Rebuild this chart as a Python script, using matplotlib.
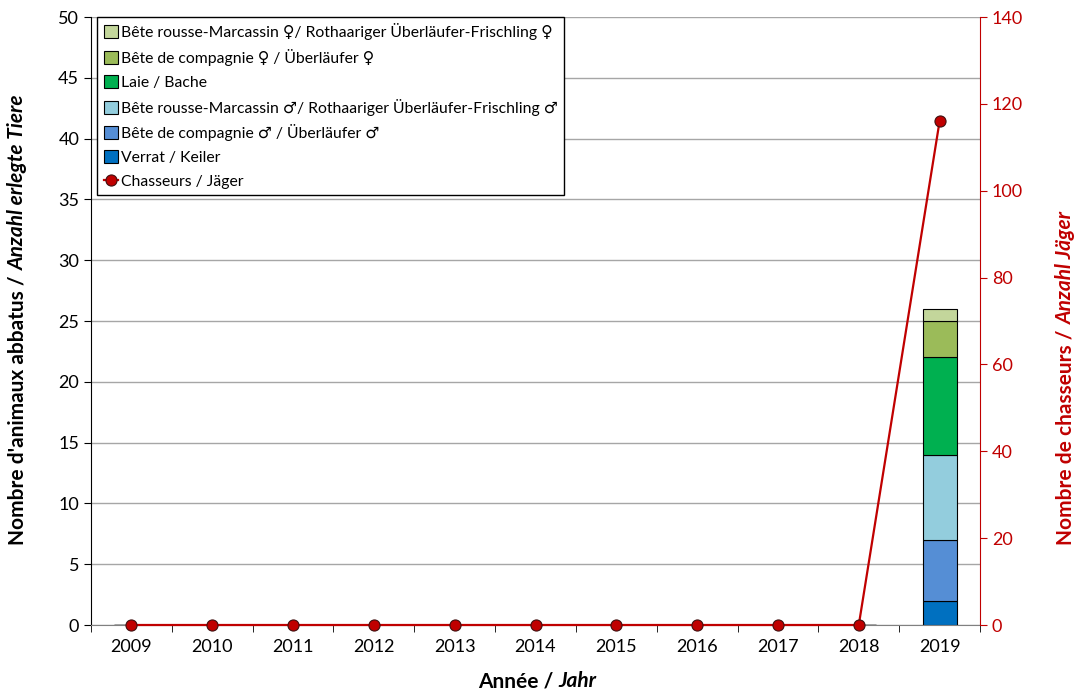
import numpy as np
import matplotlib
matplotlib.use('Agg')
import matplotlib.pyplot as plt

plt.rcParams['font.family'] = ['Lato', 'DejaVu Sans']

# données
annees = ['2009', '2010', '2011', '2012', '2013', '2014', '2015', '2016', '2017', '2018', '2019']
verrat = [0, 0, 0, 0, 0, 0, 0, 0, 0, 0, 2]
compagnie_m = [0, 0, 0, 0, 0, 0, 0, 0, 0, 0, 5]
rousse_m = [0, 0, 0, 0, 0, 0, 0, 0, 0, 0, 7]
laie = [0, 0, 0, 0, 0, 0, 0, 0, 0, 0, 8]
compagnie_f = [0, 0, 0, 0, 0, 0, 0, 0, 0, 0, 3]
rousse_f = [0, 0, 0, 0, 0, 0, 0, 0, 0, 0, 1]
chasseurs = [0, 0, 0, 0, 0, 0, 0, 0, 0, 0, 116]

series = [
    (verrat, '#0070C0', 'Verrat / Keiler'),
    (compagnie_m, '#558ED5', 'Bête de compagnie \u2642 / Überläufer \u2642'),
    (rousse_m, '#93CDDD', 'Bête rousse-Marcassin \u2642/ Rothaariger Überläufer-Frischling \u2642'),
    (laie, '#00B050', 'Laie / Bache'),
    (compagnie_f, '#9BBB59', 'Bête de compagnie \u2640 / Überläufer \u2640'),
    (rousse_f, '#C3D69B', 'Bête rousse-Marcassin \u2640/ Rothaariger Überläufer-Frischling \u2640'),
]

rouge = '#C00000'

fig = plt.figure(figsize=(10.79, 6.94), dpi=100)
ax = fig.add_axes([91/1079, 1-625/694, (980-91)/1079, (625-17)/694])
x = np.arange(len(annees))

bas = np.zeros(len(annees))
barres = []
for vals, col, lab in series:
    b = ax.bar(x, vals, 0.42, bottom=bas, color=col, edgecolor='black', linewidth=0.8, label=lab, zorder=2)
    barres.append(b)
    bas = bas + np.array(vals)

ax.set_xlim(-0.5, len(annees) - 0.5)
ax.set_ylim(0, 50)
ax.set_yticks(np.arange(0, 51, 5))
ax.set_xticks(x)
ax.set_xticklabels(annees)
ax.set_xticks(np.arange(-0.5, len(annees), 1), minor=True)
ax.tick_params(axis='x', which='major', length=0, labelsize=13, pad=10)
ax.tick_params(axis='x', which='minor', length=5, direction='out', color='black')
ax.tick_params(axis='y', labelsize=13, length=5, direction='out')
ax.yaxis.grid(True, color='#A6A6A6', linewidth=1)
ax.set_axisbelow(True)
ax.spines['top'].set_visible(False)
ax.spines['right'].set_visible(False)
ax.spines['bottom'].set_color('#808080')

ax2 = ax.twinx()
ligne, = ax2.plot(x, chasseurs, color=rouge, linewidth=1.6, marker='o', markersize=8,
                  markerfacecolor=rouge, markeredgecolor='#401010', markeredgewidth=0.8,
                  label='Chasseurs / Jäger', zorder=3, clip_on=False)
ax2.set_ylim(0, 140)
ax2.set_yticks(np.arange(0, 141, 20))
ax2.tick_params(axis='y', colors=rouge, labelsize=13, length=5, direction='out')
ax2.spines['right'].set_color(rouge)
ax2.spines['top'].set_visible(False)
ax2.spines['left'].set_visible(False)
ax2.spines['bottom'].set_visible(False)

handles = [b for b in barres[::-1]] + [ligne]
labels = [s[2] for s in series[::-1]] + ['Chasseurs / Jäger']
leg = ax2.legend(handles, labels, loc='upper left', bbox_to_anchor=(0.007, 1.0),
                 fontsize=11.3, frameon=True, fancybox=False, edgecolor='black',
                 framealpha=1, handlelength=0.9, handleheight=0.9, handletextpad=0.2,
                 labelspacing=0.56, borderpad=0.4, borderaxespad=0)
leg.get_frame().set_linewidth(1)
leg.set_zorder(10)

# titres des axes (gras + gras italique)
t1 = fig.text(478/1079, 3/694, 'Année / ', fontsize=15, fontweight='bold', ha='left', va='bottom')
ax.annotate('Jahr', xy=(1, 0), xycoords=t1, fontsize=15, fontweight='bold', style='italic',
            ha='left', va='bottom', annotation_clip=False)

t2 = fig.text(8/1079, 1-545/694, "Nombre d'animaux abbatus / ", fontsize=15, fontweight='bold',
              rotation=90, ha='left', va='bottom')
ax.annotate('Anzahl erlegte Tiere', xy=(0.5, 1), xycoords=t2, fontsize=15, fontweight='bold',
            style='italic', rotation=90, ha='center', va='bottom', annotation_clip=False)

t3 = fig.text(1056/1079, 1-545/694, 'Nombre de chasseurs / ', fontsize=15, fontweight='bold',
              color=rouge, rotation=90, ha='left', va='bottom')
ax.annotate('Anzahl Jäger', xy=(0.5, 1), xycoords=t3, fontsize=15, fontweight='bold',
            style='italic', color=rouge, rotation=90, ha='center', va='bottom', annotation_clip=False)

fig.savefig('out.png', dpi=100)
